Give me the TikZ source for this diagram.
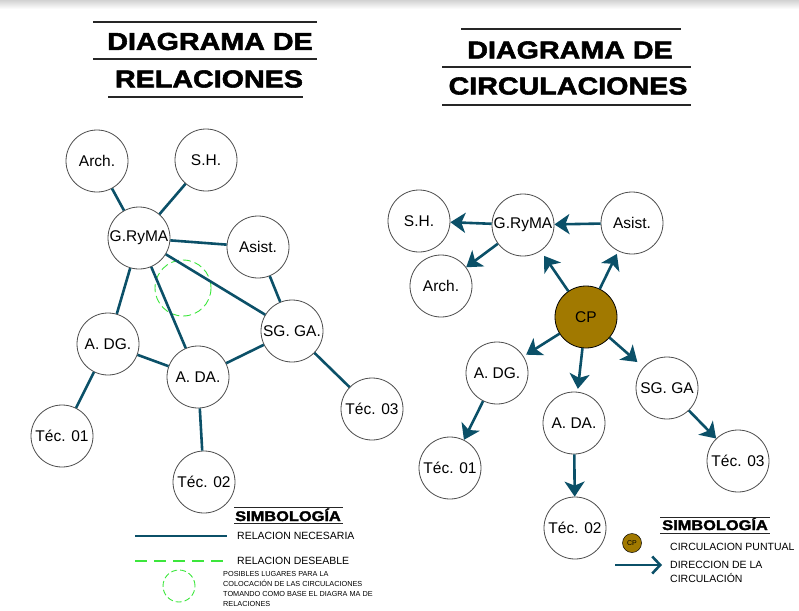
\documentclass[tikz,border=0pt]{standalone}
\usepackage{fontspec}
\setmainfont{Liberation Sans}
\newfontfamily\titlefont{Liberation Sans}[FakeStretch=1.17, BoldFeatures={FakeBold=2.2}]
\usetikzlibrary{arrows.meta, positioning}
\usepackage{xcolor}
\definecolor{linkblue}{RGB}{11,80,104}
\definecolor{cpbrown}{RGB}{161,121,0}
\definecolor{wishgreen}{RGB}{60,230,60}

\begin{document}
\begin{tikzpicture}[
        x=1pt, y=-1pt,
        place/.style={circle, minimum size=62pt, inner sep=0pt, draw=gray!60!black, line width=0.8pt, fill=white, font=\fontsize{15.5}{17}\selectfont},
        cpnode/.style={place, fill=cpbrown, draw=black},
        wishspot/.style={circle, inner sep=0pt, draw=wishgreen, line width=0.9pt, dash pattern=on 8pt off 4pt},
        titletext/.style={font=\titlefont\bfseries\fontsize{24.5}{26}\selectfont, inner sep=0pt},
        headtext/.style={font=\titlefont\bfseries\fontsize{14}{15}\selectfont, inner sep=0pt, anchor=base},
        legtext/.style={font=\fontsize{10.5}{14.5}\selectfont, inner sep=0pt, anchor=west, align=left},
        notetext/.style={font=\fontsize{7.3}{9.8}\selectfont, inner sep=0pt, anchor=west, align=left},
        titlerule/.style={line width=1.2pt, gray!30!black},
        relline/.style={line width=2.6pt, linkblue},
        wishline/.style={line width=1.3pt, wishgreen, dash pattern=on 12pt off 7pt},
        circarrow/.style={line width=2.6pt, linkblue, -{Stealth[length=15pt, width=20pt, inset=4pt]}}
    ]
        \useasboundingbox (0,0) rectangle (799,610);
        \shade[top color=gray!35, bottom color=white] (0,0) rectangle (799,9);

        % Titles
        \node (relTitleA) [titletext] at (210,41.5) {DIAGRAMA DE};
        \node (relTitleB) [titletext] at (209,79) {RELACIONES};
        \draw [titlerule] (93,22) -- (317,22);
        \draw [titlerule] (93,59) -- (317,59);
        \draw [titlerule] (108,97) -- (303,97);
        \node (cirTitleA) [titletext] at (570,50) {DIAGRAMA DE};
        \node (cirTitleB) [titletext] at (568,86) {CIRCULACIONES};
        \draw [titlerule] (461,29) -- (681,29);
        \draw [titlerule] (442,67) -- (691,67);
        \draw [titlerule] (442,105) -- (691,105);

        % Left: relation diagram
        \node (wish) [wishspot, minimum size=56pt] at (183,288) {};
        \node (archR) [place] at (97,161) {Arch.};
        \node (shR) [place] at (206,160) {S.H.};
        \node (grymaR) [place] at (139,238) {G.RyMA};
        \node (asistR) [place] at (258,247) {Asist.};
        \node (sggaR) [place] at (292,331) {SG. GA.};
        \node (adgR) [place] at (108,344) {A. DG.};
        \node (adaR) [place] at (198,377) {A. DA.};
        \node (tec1R) [place] at (62,436) {Téc. 01};
        \node (tec2R) [place] at (204,482) {Téc. 02};
        \node (tec3R) [place] at (372,409) {Téc. 03};

        % Necessary relations
        \draw [relline] (archR) -- (grymaR);
        \draw [relline] (shR) -- (grymaR);
        \draw [relline] (grymaR) -- (asistR);
        \draw [relline] (grymaR) -- (sggaR);
        \draw [relline] (grymaR) -- (adgR);
        \draw [relline] (grymaR) -- (adaR);
        \draw [relline] (asistR) -- (sggaR);
        \draw [relline] (adgR) -- (adaR);
        \draw [relline] (adaR) -- (sggaR);
        \draw [relline] (adgR) -- (tec1R);
        \draw [relline] (adaR) -- (tec2R);
        \draw [relline] (sggaR) -- (tec3R);

        % Right: circulation diagram
        \node (shC) [place] at (419,221) {S.H.};
        \node (grymaC) [place] at (523,225) {G.RyMA};
        \node (asistC) [place] at (632,223) {Asist.};
        \node (archC) [place] at (441,286) {Arch.};
        \node (cp) [cpnode] at (586,317) {CP};
        \node (adgC) [place] at (497,373) {A. DG.};
        \node (adaC) [place] at (574,423) {A. DA.};
        \node (sggaC) [place] at (667,388) {SG. GA};
        \node (tec1C) [place] at (450,468) {Téc. 01};
        \node (tec2C) [place] at (575,528) {Téc. 02};
        \node (tec3C) [place] at (738,461) {Téc. 03};

        % Circulation directions
        \draw [circarrow] (grymaC) -- (shC);
        \draw [circarrow] (asistC) -- (grymaC);
        \draw [circarrow] (grymaC) -- (archC);
        \draw [circarrow, shorten >=6pt] (cp) -- (grymaC);
        \draw [circarrow, shorten >=3pt] (cp) -- (asistC);
        \draw [circarrow, shorten >=3pt] (cp) -- (adgC);
        \draw [circarrow, shorten >=3pt] (cp) -- (adaC);
        \draw [circarrow, shorten >=8pt] (cp) -- (sggaC);
        \draw [circarrow] (adgC) -- (tec1C);
        \draw [circarrow] (adaC) -- (tec2C);
        \draw [circarrow] (sggaC) -- (tec3C);

        % Legend, left
        \node (relHead) [headtext] at (288,521) {SIMBOLOGÍA};
        \draw [titlerule, line width=1pt] (234,507) -- (343,507);
        \draw [titlerule, line width=1pt] (234,523) -- (343,523);
        \coordinate (necA) at (135,536);
        \coordinate (necB) at (227,536);
        \draw [relline] (necA) -- (necB);
        \node (necText) [legtext, right=10pt of necB] {RELACION NECESARIA};
        \coordinate (desA) at (135,561);
        \coordinate (desB) at (227,561);
        \draw [wishline] (desA) -- (desB);
        \node (desText) [legtext, right=10pt of desB] {RELACION DESEABLE};
        \node (wishKey) [wishspot, minimum size=32pt, dash pattern=on 6pt off 3pt] at (179,586) {};
        \node (wishText) [notetext] at (223,589) {POSIBLES LUGARES PARA LA\\COLOCACIÓN DE LAS CIRCULACIONES\\TOMANDO COMO BASE EL DIAGRA MA DE\\RELACIONES};

        % Legend, right
        \node (cirHead) [headtext] at (715,530) {SIMBOLOGÍA};
        \draw [titlerule, line width=1pt] (660,517) -- (770,517);
        \draw [titlerule, line width=1pt] (660,533) -- (770,533);
        \node (cpKey) [cpnode, minimum size=19pt, line width=0.5pt, font=\fontsize{7}{8}\selectfont] at (632,543) {CP};
        \node (cpText) [legtext] at (670,547) {CIRCULACION PUNTUAL};
        \coordinate (dirA) at (615,565);
        \coordinate (dirB) at (662,565);
        \draw [relline, -{Straight Barb[length=8pt, width=17pt]}] (dirA) -- (dirB);
        \node (dirText) [legtext, right=8pt of dirB, yshift=-7pt] {DIRECCION DE LA\\CIRCULACIÓN};

    \end{tikzpicture}
\end{document}
